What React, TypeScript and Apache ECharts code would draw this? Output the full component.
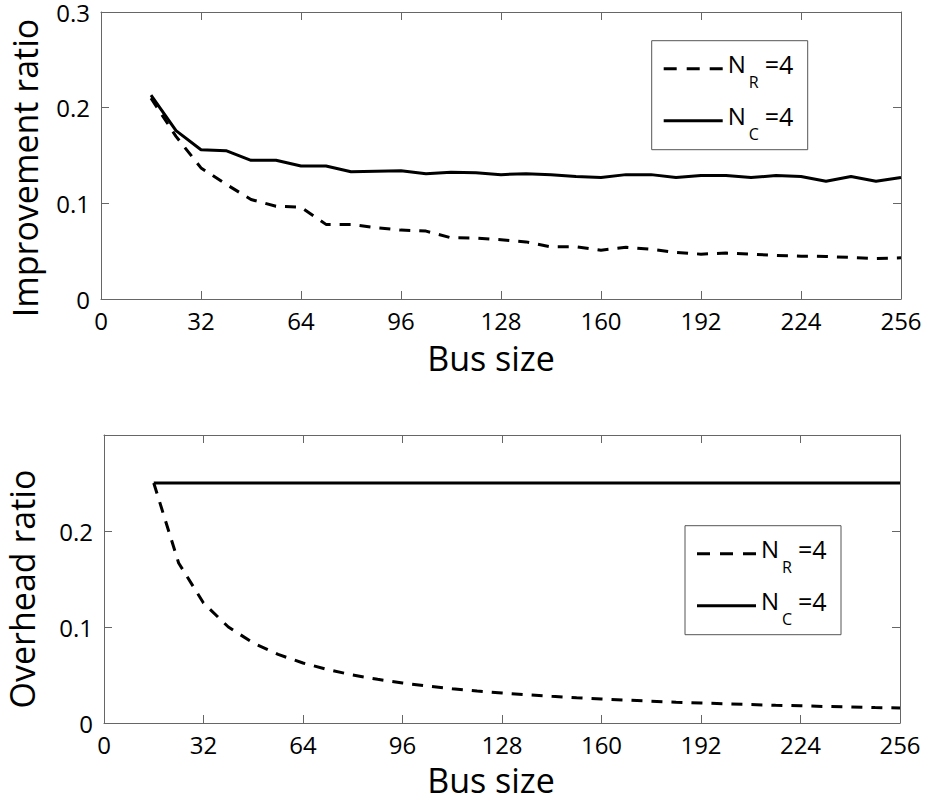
import React, { useEffect, useRef } from "react";
import * as echarts from "echarts";

const busSizes = [16, 24, 32, 40, 48, 56, 64, 72, 80, 88, 96, 104, 112, 120, 128, 136, 144, 152, 160, 168, 176, 184, 192, 200, 208, 216, 224, 232, 240, 248, 256];

const improvementNR = [0.21, 0.17, 0.137, 0.12, 0.104, 0.097, 0.096, 0.078, 0.078, 0.0745, 0.072, 0.071, 0.064, 0.0638, 0.062, 0.0597, 0.0545, 0.0545, 0.051, 0.054, 0.052, 0.0486, 0.0469, 0.048, 0.047, 0.0455, 0.0448, 0.0445, 0.0434, 0.0424, 0.043];
const improvementNC = [0.213, 0.176, 0.156, 0.155, 0.145, 0.145, 0.139, 0.139, 0.133, 0.1335, 0.134, 0.131, 0.1325, 0.132, 0.13, 0.131, 0.13, 0.128, 0.127, 0.13, 0.13, 0.127, 0.129, 0.129, 0.127, 0.129, 0.128, 0.123, 0.128, 0.123, 0.127];

const overheadNR = [0.25, 0.1667, 0.125, 0.1, 0.0833, 0.0714, 0.0625, 0.0556, 0.05, 0.0455, 0.0417, 0.0385, 0.0357, 0.0333, 0.0313, 0.0294, 0.0278, 0.0263, 0.025, 0.0238, 0.0227, 0.0217, 0.0208, 0.02, 0.0192, 0.0185, 0.0179, 0.0172, 0.0167, 0.0161, 0.0156];
const overheadNC = [0.25, 0.25, 0.25, 0.25, 0.25, 0.25, 0.25, 0.25, 0.25, 0.25, 0.25, 0.25, 0.25, 0.25, 0.25, 0.25, 0.25, 0.25, 0.25, 0.25, 0.25, 0.25, 0.25, 0.25, 0.25, 0.25, 0.25, 0.25, 0.25, 0.25, 0.25];

const xTicks = { min: 0, max: 256, interval: 32 };
const yTicks = { min: 0, max: 0.3, interval: 0.1 };

const FONT = "Open Sans";
const FRAME = "#666666";

function xAxisPair(gridIndex: number) {
  const base = {
    gridIndex,
    type: "value" as const,
    min: xTicks.min,
    max: xTicks.max,
    interval: xTicks.interval,
    axisLine: { show: true, onZero: false, lineStyle: { color: FRAME, width: 1 } },
    axisTick: { show: true, inside: true, length: 8, lineStyle: { color: FRAME, width: 1 } },
    splitLine: { show: false },
  };
  return [
    { ...base, position: "bottom", axisLabel: { show: true, fontSize: 24, color: "#000", fontFamily: FONT, margin: 9, lineHeight: 24 } },
    { ...base, position: "top", axisLabel: { show: false } },
  ];
}

function yAxisPair(gridIndex: number, showMax: boolean) {
  const base = {
    gridIndex,
    type: "value" as const,
    min: yTicks.min,
    max: yTicks.max,
    interval: yTicks.interval,
    axisLine: { show: true, onZero: false, lineStyle: { color: FRAME, width: 1 } },
    axisTick: { show: true, inside: true, length: 8, lineStyle: { color: FRAME, width: 1 } },
    splitLine: { show: false },
  };
  return [
    {
      ...base,
      position: "left",
      axisLabel: {
        show: true,
        fontSize: 24,
        lineHeight: 20,
        color: "#000",
        fontFamily: FONT,
        margin: 11,
        formatter: (v: number) => (v === 0 ? "0" : !showMax && v > 0.25 ? "" : v.toFixed(1)),
      },
    },
    { ...base, position: "right", axisLabel: { show: false } },
  ];
}

function legendGraphics(L: number, T: number) {
  const txt = (x: number, y: number, text: string, size: number) => ({
    type: "text",
    x,
    y,
    z: 20,
    style: { text, fontSize: size, fontFamily: FONT, fill: "#000", align: "left", verticalAlign: "middle" },
  });
  return [
    {
      type: "rect",
      z: 10,
      shape: { x: L, y: T, width: 156, height: 109 },
      style: { fill: "#fff", stroke: "#555", lineWidth: 1 },
    },
    {
      type: "line",
      z: 20,
      shape: { x1: L + 12, y1: T + 28, x2: L + 71, y2: T + 28 },
      style: { stroke: "#000", lineWidth: 3, lineDash: [13, 10] },
    },
    {
      type: "line",
      z: 20,
      shape: { x1: L + 12, y1: T + 80, x2: L + 71, y2: T + 80 },
      style: { stroke: "#000", lineWidth: 3 },
    },
    txt(L + 76, T + 23, "N", 24),
    txt(L + 97, T + 41.5, "R", 16),
    txt(L + 113, T + 23, "=4", 25),
    txt(L + 76, T + 75, "N", 24),
    txt(L + 97, T + 93, "C", 16),
    txt(L + 113, T + 75, "=4", 25),
  ];
}

function titleText(x: number, y: number, text: string, rotate: boolean) {
  return {
    type: "text",
    x,
    y,
    rotation: rotate ? Math.PI / 2 : 0,
    z: 20,
    style: { text, fontSize: 34, lineHeight: 30, fontFamily: FONT, fill: "#000", align: "center", verticalAlign: "middle" },
  };
}

export default function App() {
  const ref = useRef<HTMLDivElement>(null);
  useEffect(() => {
    if (!ref.current) return;
    const chart = echarts.init(ref.current, null, { renderer: "svg" });
    const dashed = { color: "#000", width: 3, type: [11, 9] as any, cap: "butt" as const };
    const solid = { color: "#000", width: 3, type: "solid" as const };
    const pairs = (ys: number[]) => busSizes.map((x, i) => [x, ys[i]]);
    chart.setOption({
      animation: false,
      backgroundColor: "#fff",
      grid: [
        { left: 101, top: 11, width: 800, height: 288, show: false },
        { left: 104, top: 435, width: 796, height: 288, show: false },
      ],
      xAxis: [...xAxisPair(0), ...xAxisPair(1)],
      yAxis: [...yAxisPair(0, true), ...yAxisPair(1, false)],
      series: [
        { name: "NR=4 improvement", type: "line", xAxisIndex: 0, yAxisIndex: 0, data: pairs(improvementNR), symbol: "none", lineStyle: dashed },
        { name: "NC=4 improvement", type: "line", xAxisIndex: 0, yAxisIndex: 0, data: pairs(improvementNC), symbol: "none", lineStyle: solid },
        { name: "NR=4 overhead", type: "line", xAxisIndex: 2, yAxisIndex: 2, data: pairs(overheadNR), symbol: "none", lineStyle: dashed },
        { name: "NC=4 overhead", type: "line", xAxisIndex: 2, yAxisIndex: 2, data: pairs(overheadNC), symbol: "none", lineStyle: solid },
      ],
      graphic: [
        titleText(25, 168, "Improvement ratio", true),
        titleText(491, 358, "Bus size", false),
        titleText(22, 589, "Overhead ratio", true),
        titleText(491, 780, "Bus size", false),
        ...legendGraphics(651.7, 40.7),
        ...legendGraphics(685, 525.7),
      ],
    });
    return () => chart.dispose();
  }, []);
  return (
    <div
      ref={ref}
      style={{ position: "fixed", left: 0, top: 0, width: 926, height: 802, background: "#fff" }}
    />
  );
}
